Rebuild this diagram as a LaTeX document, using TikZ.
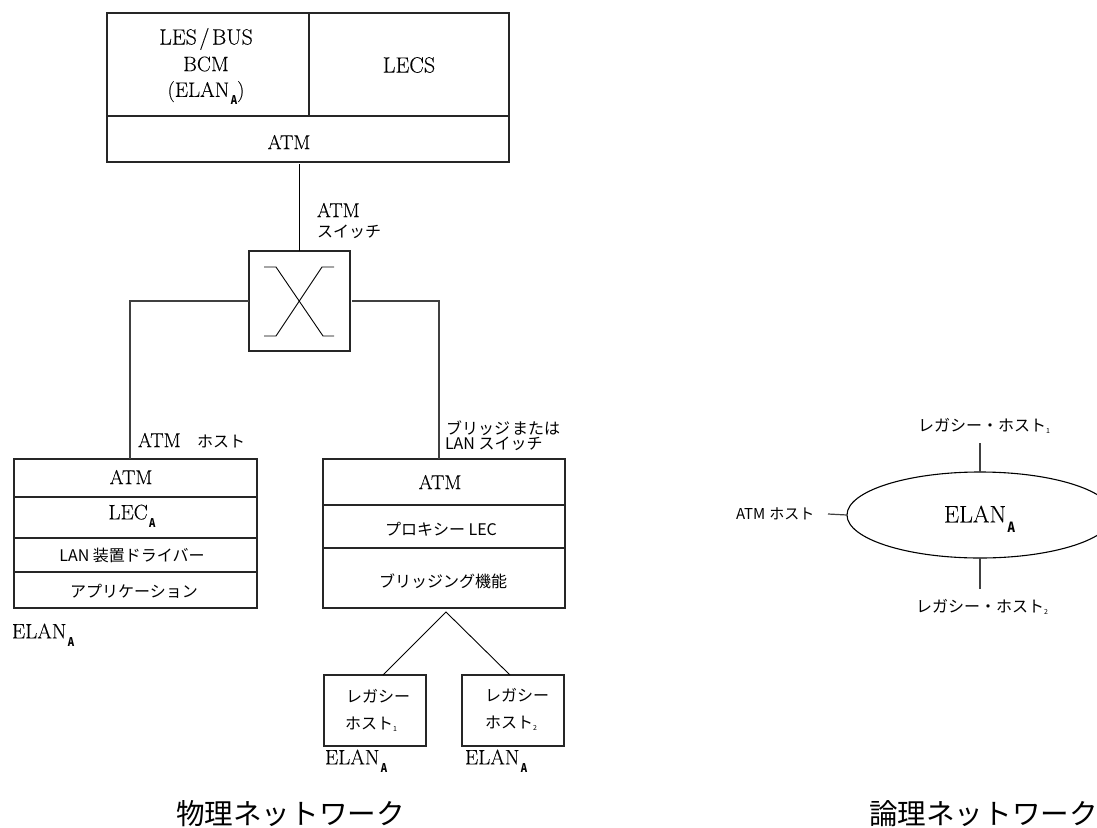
\documentclass[tikz,border=0pt]{standalone}
\usepackage{fontspec}
\setmainfont{Latin Modern Roman}[FakeBold=0.12]
\newfontfamily\jp{Noto Sans CJK JP}
\usetikzlibrary{shapes.geometric}
\newcommand{\subA}[2][8pt]{\kern1.5pt\raisebox{-#1}{\scalebox{0.8}[1]{\jp\bfseries\fontsize{#2}{#2}\selectfont A}}}
\newcommand{\tinysub}[1]{\raisebox{-2pt}{\jp\fontsize{7}{7}\selectfont #1}}
\tikzset{
  x=1pt,y=-1pt,
  every node/.style={inner sep=0pt,outer sep=0pt},
  cell/.style={draw=black!85,line width=1.1pt,anchor=north west},
  link/.style={draw=black!75,line width=1.2pt},
  thin link/.style={draw=black,line width=0.9pt},
  lat/.style={font=\fontsize{20}{20}\selectfont},
  late/.style={font=\fontsize{21}{21}\selectfont},
  latbig/.style={font=\fontsize{24}{24}\selectfont},
  jpn/.style={font=\jp\fontsize{16}{16}\selectfont},
  title/.style={font=\jp\fontsize{28.6}{28.6}\selectfont},
}
\begin{document}
\begin{tikzpicture}
\useasboundingbox (0,0) rectangle (1097,827);
% server
\node[cell,minimum width=202,minimum height=103] (les) at (107,13) {};
\node[cell,minimum width=200,minimum height=103] (lecs) at (309,13) {};
\node[cell,minimum width=402,minimum height=46] (satm) at (107,116) {};
\node[late,font=\fontsize{22}{22}\selectfont] (t1a) at (206,39) {LES\kern2.5pt/\kern2.5pt BUS};
\node[late] (t1b) at (206,64) {BCM};
\node[late] (t1c) at (206,93) {(ELAN\subA{12})};
\node[late,font=\fontsize{22}{22}\selectfont] (t2a) at (409,65) {LECS};
\node[lat] (t3a) at (289,142) {ATM};
% switch
\node[cell,minimum width=101,minimum height=100] (sw) at (249,251) {};
\coordinate (xa) at (264,267);\coordinate (xb) at (276,267);\coordinate (xc) at (323,336);\coordinate (xd) at (334,336);
\coordinate (xe) at (334,267);\coordinate (xf) at (322,267);\coordinate (xg) at (276,336);\coordinate (xh) at (264,336);
\draw[thin link] (xa)--(xb)--(xc)--(xd);
\draw[thin link] (xe)--(xf)--(xg)--(xh);
% labels
\node[lat,anchor=west] (l1) at (317,210) {ATM};
\node[jpn,anchor=west] (l2) at (317,232) {スイッチ};
\node[lat,anchor=west] (l3) at (138,440) {ATM};
\node[jpn,anchor=west] (l4) at (197,441) {ホスト};
\node[jpn,anchor=west] (l5a) at (446,428) {ブリッジ\kern2pt または};
\node[jpn,anchor=west] (l5b) at (445,444) {LAN スイッチ};
% left host
\node[cell,minimum width=243,minimum height=38] (h1) at (14,459) {};
\node[cell,minimum width=243,minimum height=41] (h2) at (14,497) {};
\node[cell,minimum width=243,minimum height=34] (h3) at (14,538) {};
\node[cell,minimum width=243,minimum height=36] (h4) at (14,572) {};
\node[lat] (h1t) at (131,477) {ATM};
\node[late] (h2t) at (132,516) {LEC\subA{12}};
\node[jpn] (h3t) at (132,555) {LAN 装置ドライバー};
\node[jpn] (h4t) at (134,591) {アプリケーション};
\node[late,anchor=west] (e1) at (12,635) {ELAN\subA{12}};
% right bridge
\node[cell,minimum width=242,minimum height=46] (b1) at (323,459) {};
\node[cell,minimum width=242,minimum height=43] (b2) at (323,505) {};
\node[cell,minimum width=242,minimum height=60] (b3) at (323,548) {};
\node[lat] (b1t) at (440,482) {ATM};
\node[jpn] (b2t) at (441,529) {プロキシー LEC};
\node[jpn] (b3t) at (443,581) {ブリッジング機能};
% legacy
\node[cell,minimum width=102,minimum height=71] (g1) at (324,675) {};
\node[jpn,anchor=west] (g1a) at (346,696) {レガシー};
\node[jpn,anchor=west] (g1b) at (345,724) {ホスト\tinysub{1}};
\node[cell,minimum width=102,minimum height=71] (g2) at (462,675) {};
\node[jpn,anchor=west] (g2a) at (485,695) {レガシー};
\node[jpn,anchor=west] (g2b) at (485,723) {ホスト\tinysub{2}};
\node[late,anchor=west] (e2) at (325,761) {ELAN\subA{12}};
\node[late,anchor=west] (e3) at (465,761) {ELAN\subA{12}};
% connectors
\coordinate (cl) at (130,459);
\coordinate (cr) at (439,459);
\coordinate (apex) at (446,612);
\coordinate (t1) at (383,675);
\coordinate (t2) at (510,675);
\draw[thin link,shorten <=2pt] (sw.north |- satm.south) -- (sw.north);
\draw[link] (sw.west) -| (cl);
\draw[link,shorten <=2pt] (sw.east) -| (cr);
\draw[thin link] (t1) -- (apex) -- (t2);
% logical
\node[ellipse,draw=black,line width=1.1pt,minimum width=266,minimum height=86] (el) at (980,515) {};
\node[latbig,anchor=west] (ellab) at (944,519) {ELAN\subA[10pt]{14}};
\node[jpn,anchor=west] (lh1) at (918,426) {レガシー・ホスト\tinysub{1}};
\node[jpn,anchor=west] (lh2) at (916,607) {レガシー・ホスト\tinysub{2}};
\node[jpn,anchor=west,font=\jp\fontsize{15}{15}\selectfont] (ah) at (736,514) {ATM\kern4pt ホスト};
\coordinate (c1) at (980,443);
\coordinate (c2) at (980,589);
\coordinate (c3) at (828,514);
\draw[link] (c1) -- (el.north);
\draw[link] (c2) -- (el.south);
\draw[link] (c3) -- (el.west);
% titles
\node[title,anchor=west] (tp) at (176,814) {物理ネットワーク};
\node[title,anchor=west] (tl) at (869,814) {論理ネットワーク};
\end{tikzpicture}
\end{document}
